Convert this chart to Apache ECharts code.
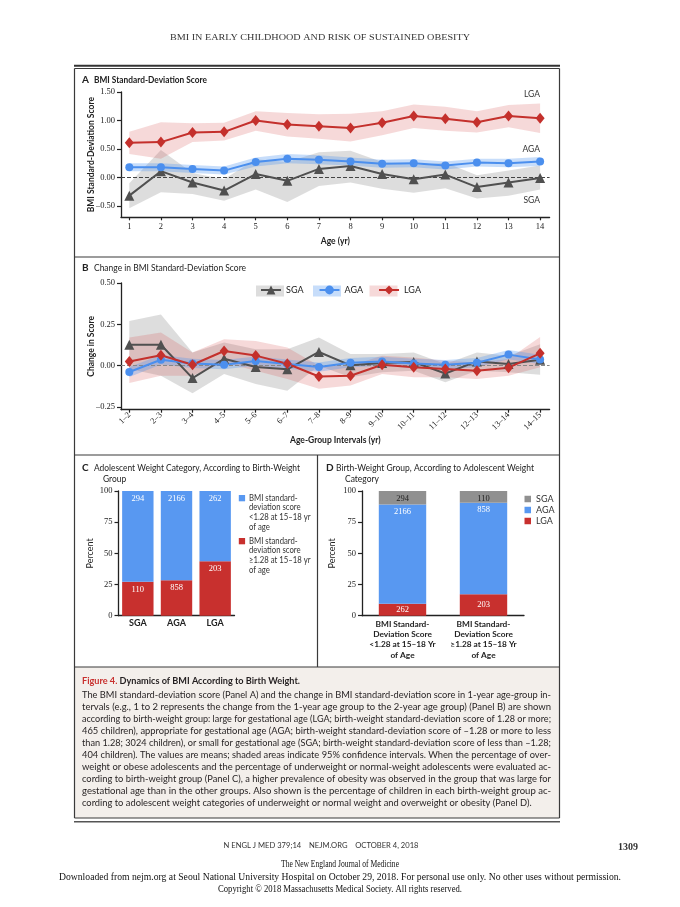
<!DOCTYPE html>
<html><head><meta charset="utf-8">
<script src="https://cdn.jsdelivr.net/npm/echarts@6/dist/echarts.min.js"></script>
<style>html,body{margin:0;padding:0;background:#fff}#c{width:680px;height:907px}</style>
</head><body><div id="c"></div>
<script>
// ---------------- DATA ----------------
const ages = [1,2,3,4,5,6,7,8,9,10,11,12,13,14];
const intervalLabels = ['1–2','2–3','3–4','4–5','5–6','6–7','7–8','8–9','9–10','10–11','11–12','12–13','13–14','14–15'];
const sdTicks = [-0.5, 0, 0.5, 1, 1.5];
const chgTicks = [-0.25, 0, 0.25, 0.5];

// Panel A: BMI SD score (mean, 95% CI)
const sdLGA   = [0.61,0.62,0.79,0.80,1.00,0.93,0.90,0.87,0.96,1.08,1.03,0.97,1.08,1.04];
const sdLGAHi = [0.80,0.97,0.95,0.96,1.16,1.13,1.11,1.12,1.16,1.28,1.24,1.16,1.27,1.30];
const sdLGALo = [0.41,0.33,0.62,0.65,0.82,0.72,0.68,0.63,0.74,0.87,0.82,0.79,0.88,0.78];
const sdAGA   = [0.18,0.18,0.15,0.12,0.27,0.33,0.31,0.28,0.24,0.25,0.21,0.26,0.25,0.28];
const sdAGAHi = [0.25,0.25,0.22,0.19,0.35,0.41,0.39,0.35,0.31,0.32,0.28,0.33,0.33,0.36];
const sdAGALo = [0.11,0.11,0.08,0.05,0.19,0.25,0.23,0.21,0.17,0.18,0.14,0.19,0.18,0.20];
const sdSGA   = [-0.32,0.11,-0.09,-0.23,0.06,-0.06,0.15,0.20,0.06,-0.03,0.05,-0.17,-0.09,-0.01];
const sdSGAHi = [-0.10,0.48,0.08,-0.03,0.32,0.27,0.44,0.47,0.27,0.21,0.26,0.04,0.12,0.21];
const sdSGALo = [-0.54,-0.26,-0.29,-0.41,-0.21,-0.43,-0.15,-0.09,-0.20,-0.27,-0.19,-0.37,-0.32,-0.21];

// Panel B: change in BMI SD score per 1-yr interval
const chSGA   = [0.127,0.127,-0.075,0.042,-0.008,-0.022,0.083,0.002,0.016,0.022,-0.047,0.026,0.010,0.036];
const chSGAHi = [0.27,0.31,0.08,0.14,0.10,0.10,0.17,0.07,0.07,0.08,0.01,0.08,0.06,0.13];
const chSGALo = [-0.02,-0.06,-0.166,-0.05,-0.11,-0.152,0.00,-0.07,-0.04,-0.03,-0.10,-0.03,-0.04,-0.055];
const chAGA   = [-0.038,0.036,0.014,0.006,0.028,0.010,-0.008,0.018,0.026,0.014,0.006,0.018,0.067,0.038];
const chAGAHi = [-0.008,0.064,0.042,0.034,0.056,0.038,0.020,0.046,0.054,0.042,0.034,0.046,0.095,0.066];
const chAGALo = [-0.068,0.008,-0.014,-0.022,0.000,-0.018,-0.036,-0.010,-0.002,-0.014,-0.022,-0.010,0.039,0.010];
const chLGA   = [0.026,0.063,0.006,0.089,0.061,0.012,-0.065,-0.061,0.006,-0.010,-0.020,-0.030,-0.012,0.075];
const chLGAHi = [0.17,0.20,0.08,0.16,0.15,0.11,0.00,0.00,0.06,0.05,0.03,0.02,0.04,0.174];
const chLGALo = [-0.105,-0.06,-0.06,0.02,-0.03,-0.08,-0.14,-0.12,-0.05,-0.07,-0.07,-0.08,-0.06,-0.01];

// Panel C: adolescent weight category by birth-weight group
const cCats = ['SGA','AGA','LGA'];
const cHighPct = [27.2, 28.4, 43.7];
const cLowPct  = [72.8, 71.6, 56.3];
const cHighN = [110, 858, 203];
const cLowN  = [294, 2166, 262];
const cLowName  = 'BMI standard-\ndeviation score\n<1.28 at 15–18 yr\nof age';
const cHighName = 'BMI standard-\ndeviation score\n≥1.28 at 15–18 yr\nof age';

// Panel D: birth-weight group by adolescent weight category
const dCats = ['BMI Standard-\nDeviation Score\n<1.28 at 15–18 Yr\nof Age', 'BMI Standard-\nDeviation Score\n≥1.28 at 15–18 Yr\nof Age'];
const dLGAPct = [9.6, 17.3];
const dAGAPct = [79.6, 73.3];
const dSGAPct = [10.8, 9.4];
const dLGAN = [262, 203];
const dAGAN = [2166, 858];
const dSGAN = [294, 110];

const captionLines = [
 'The BMI standard-deviation score (Panel A) and the change in BMI standard-deviation score in 1-year age-group in-',
 'tervals (e.g., 1 to 2 represents the change from the 1-year age group to the 2-year age group) (Panel B) are shown',
 'according to birth-weight group: large for gestational age (LGA; birth-weight standard-deviation score of 1.28 or more;',
 '465 children), appropriate for gestational age (AGA; birth-weight standard-deviation score of \u20131.28 or more to less',
 'than 1.28; 3024 children), or small for gestational age (SGA; birth-weight standard-deviation score of less than \u20131.28;',
 '404 children). The values are means; shaded areas indicate 95% confidence intervals. When the percentage of over-',
 'weight or obese adolescents and the percentage of underweight or normal-weight adolescents were evaluated ac-',
 'cording to birth-weight group (Panel C), a higher prevalence of obesity was observed in the group that was large for',
 'gestational age than in the other groups. Also shown is the percentage of children in each birth-weight group ac-',
 'cording to adolescent weight categories of underweight or normal weight and overweight or obesity (Panel D).'
];

// ---------------- STYLE ----------------
const RED = '#c4302c', BLUE = '#4b8fee', DGRAY = '#505050';
const RED_BAND = 'rgba(214,80,80,0.22)', BLUE_BAND = 'rgba(80,148,240,0.32)', GRAY_BAND = 'rgba(150,150,150,0.32)';
const BAR_BLUE = '#5898f1', BAR_RED = '#c8302e', BAR_GRAY = '#909090';
const INK = '#222';
const SERIF = 'Liberation Serif', SANS = 'Lato';

const mctx = document.createElement('canvas').getContext('2d');
function measure(text, font) { mctx.font = font; return mctx.measureText(text).width; }
function T(text, x, y, o) {
  o = o || {};
  const size = o.size || 9, weight = o.weight || 'normal', family = o.family || SANS;
  const font = weight + ' ' + size + 'px "' + family + '"';
  let sx = o.sx || 1;
  if (o.w) sx = o.w / measure(text, font);
  return { type: 'text', x: x, y: y, scaleX: sx, silent: true, z: 20,
    style: { text: text, font: font, fill: o.fill || INK, align: o.align || 'left', verticalAlign: 'middle',
             textAlign: o.align || 'left', textVerticalAlign: 'middle' } };
}
function L(x1, y1, x2, y2, w, c) {
  return { type: 'line', silent: true, z: 15, shape: { x1, y1, x2, y2 }, style: { stroke: c || '#3a3a3a', lineWidth: w || 1.2 } };
}
function R(x, y, w, h, fill, z) {
  return { type: 'rect', silent: true, z: z == null ? 0 : z, shape: { x, y, width: w, height: h }, style: { fill: fill } };
}

function band(ax, lo, hi, color) {
  return { type: 'custom', xAxisIndex: ax, yAxisIndex: ax, silent: true, z: 1,
    data: ages.map((x, i) => [x, lo[i], hi[i]]),
    encode: { x: 0, y: [1, 2] },
    renderItem: function (params, api) {
      if (params.dataIndex !== 0) return null;
      const pts = [];
      for (let i = 0; i < ages.length; i++) pts.push(api.coord([ages[i], hi[i]]));
      for (let i = ages.length - 1; i >= 0; i--) pts.push(api.coord([ages[i], lo[i]]));
      return { type: 'polygon', shape: { points: pts }, style: { fill: color } };
    } };
}
function lineS(ax, name, ys, color, symbol, size) {
  return { type: 'line', name: name, xAxisIndex: ax, yAxisIndex: ax, z: 5, silent: true,
    data: ages.map((x, i) => [x, ys[i]]), symbol: symbol, symbolSize: size,
    lineStyle: { color: color, width: 2 }, itemStyle: { color: color } };
}
const fmt2 = v => (v < 0 ? '\u2013' : '') + Math.abs(v).toFixed(2);
const tickFont = { fontFamily: SERIF, fontSize: 8.5, color: INK };
const axLine = { show: true, onZero: false, lineStyle: { color: INK, width: 1.3 } };
const axTick = { show: true, length: 4, lineStyle: { color: INK, width: 1.2 } };

// ---------------- OPTION ----------------
const grids = [
  { left: 121, top: 92, width: 428.6, height: 125.3 },
  { left: 121, top: 283, width: 428.6, height: 126.7 },
  { left: 118.5, top: 491, width: 116, height: 124.7 },
  { left: 362, top: 491, width: 162, height: 124.7 }
];

const xAxes = [
  { type: 'value', gridIndex: 0, min: 0.737, max: 14.3, axisLine: axLine,
    axisTick: Object.assign({}, axTick, { length: 3, customValues: ages }),
    axisLabel: Object.assign({}, tickFont, { customValues: ages, margin: 5 }), splitLine: { show: false },
    name: 'Age (yr)', nameLocation: 'middle', nameGap: 19, nameMoveOverlap: false,
    nameTextStyle: { fontFamily: SANS, fontWeight: 'bold', fontSize: 8.5, color: INK } },
  { type: 'value', gridIndex: 1, min: 0.737, max: 14.3, axisLine: axLine,
    axisTick: Object.assign({}, axTick, { length: 3, customValues: ages }),
    axisLabel: Object.assign({}, tickFont, { customValues: ages, margin: 4, rotate: 45,
      formatter: v => intervalLabels[ages.indexOf(Math.round(v))] }), splitLine: { show: false },
    name: 'Age-Group Intervals (yr)', nameLocation: 'middle', nameGap: 26, nameMoveOverlap: false,
    nameTextStyle: { fontFamily: SANS, fontWeight: 'bold', fontSize: 8.5, color: INK } },
  { type: 'category', gridIndex: 2, data: cCats, axisLine: axLine, axisTick: { show: false },
    axisLabel: { interval: 0, fontFamily: SANS, fontWeight: 'bold', fontSize: 9, color: INK, margin: 3 } },
  { type: 'category', gridIndex: 3, data: dCats, axisLine: axLine, axisTick: { show: false },
    axisLabel: { interval: 0, hideOverlap: false, fontFamily: SANS, fontWeight: 'bold', fontSize: 8.3, lineHeight: 10.4, color: INK, margin: 3 } }
];
const yAxes = [
  { type: 'value', gridIndex: 0, min: -0.7, max: 1.5, axisLine: axLine,
    axisTick: Object.assign({}, axTick, { customValues: sdTicks }),
    axisLabel: Object.assign({}, tickFont, { customValues: sdTicks, formatter: fmt2, margin: 6 }),
    splitLine: { show: false },
    name: 'BMI Standard-Deviation Score', nameLocation: 'middle', nameGap: 25, nameMoveOverlap: false,
    nameTextStyle: { fontFamily: SANS, fontWeight: 'bold', fontSize: 8.5, color: INK } },
  { type: 'value', gridIndex: 1, min: -0.266, max: 0.5, axisLine: axLine,
    axisTick: Object.assign({}, axTick, { customValues: chgTicks }),
    axisLabel: Object.assign({}, tickFont, { customValues: chgTicks, formatter: fmt2, margin: 6 }),
    splitLine: { show: false },
    name: 'Change in Score', nameLocation: 'middle', nameGap: 25, nameMoveOverlap: false,
    nameTextStyle: { fontFamily: SANS, fontWeight: 'bold', fontSize: 8.5, color: INK } },
  { type: 'value', gridIndex: 2, min: 0, max: 100, interval: 25, axisLine: axLine, axisTick: axTick,
    axisLabel: Object.assign({}, tickFont, { margin: 6 }), splitLine: { show: false },
    name: 'Percent', nameLocation: 'middle', nameGap: 24, nameMoveOverlap: false,
    nameTextStyle: { fontFamily: SANS, fontSize: 9, color: INK } },
  { type: 'value', gridIndex: 3, min: 0, max: 100, interval: 25, axisLine: axLine, axisTick: axTick,
    axisLabel: Object.assign({}, tickFont, { margin: 6 }), splitLine: { show: false },
    name: 'Percent', nameLocation: 'middle', nameGap: 25, nameMoveOverlap: false,
    nameTextStyle: { fontFamily: SANS, fontSize: 9, color: INK } }
];

const zeroLine = (color) => ({ silent: true, symbol: 'none', label: { show: false },
  lineStyle: { type: 'dashed', color: color, width: 1 }, data: [{ yAxis: 0 }] });

const barLabel = (arr, color, pos) => ({ show: true, position: pos || 'insideTop', distance: 3,
  fontFamily: SERIF, fontSize: 8.5, color: color, formatter: p => String(arr[p.dataIndex]) });

const series = [
  // Panel A
  Object.assign(lineS(0, 'SGA', sdSGA, DGRAY, 'triangle', 10), { markLine: zeroLine('#444') }),
  lineS(0, 'AGA', sdAGA, BLUE, 'circle', 8),
  lineS(0, 'LGA', sdLGA, RED, 'diamond', [9, 11]),
  band(0, sdSGALo, sdSGAHi, GRAY_BAND),
  band(0, sdLGALo, sdLGAHi, RED_BAND),
  band(0, sdAGALo, sdAGAHi, BLUE_BAND),
  // Panel B
  band(1, chSGALo, chSGAHi, GRAY_BAND),
  band(1, chLGALo, chLGAHi, RED_BAND),
  band(1, chAGALo, chAGAHi, BLUE_BAND),
  Object.assign(lineS(1, 'SGA', chSGA, DGRAY, 'triangle', 10), { markLine: zeroLine('#888') }),
  lineS(1, 'AGA', chAGA, BLUE, 'circle', 8),
  lineS(1, 'LGA', chLGA, RED, 'diamond', [9, 11]),
  // Panel C
  { type: 'bar', name: cHighName, xAxisIndex: 2, yAxisIndex: 2, stack: 'c', barWidth: 31.4, silent: true,
    data: cHighPct, itemStyle: { color: BAR_RED }, label: barLabel(cHighN, '#fff') },
  { type: 'bar', name: cLowName, xAxisIndex: 2, yAxisIndex: 2, stack: 'c', barWidth: 31.4, silent: true,
    data: cLowPct, itemStyle: { color: BAR_BLUE }, label: barLabel(cLowN, '#fff') },
  // Panel D
  { type: 'bar', name: 'dLGA', xAxisIndex: 3, yAxisIndex: 3, stack: 'd', barWidth: 47.4, silent: true,
    data: dLGAPct, itemStyle: { color: BAR_RED }, label: barLabel(dLGAN, '#fff', 'inside') },
  { type: 'bar', name: 'dAGA', xAxisIndex: 3, yAxisIndex: 3, stack: 'd', barWidth: 47.4, silent: true,
    data: dAGAPct, itemStyle: { color: BAR_BLUE }, label: barLabel(dAGAN, '#fff') },
  { type: 'bar', name: 'dSGA', xAxisIndex: 3, yAxisIndex: 3, stack: 'd', barWidth: 47.4, silent: true,
    data: dSGAPct, itemStyle: { color: BAR_GRAY }, label: barLabel(dSGAN, INK) }
];

const legends = [
  { data: ['SGA', 'AGA', 'LGA'], left: 255, top: 280.5, itemWidth: 20, itemHeight: 11, itemGap: 15,
    selectedMode: false, z: 6, textStyle: { fontFamily: SANS, fontSize: 9, color: INK } },
  { data: [
      { name: 'dSGA', icon: 'rect' }, { name: 'dAGA', icon: 'rect' }, { name: 'dLGA', icon: 'rect' }
    ], orient: 'vertical', left: 519.5, top: 489.5, itemWidth: 6.5, itemHeight: 6.5, itemGap: 2,
    selectedMode: false, formatter: n => n.slice(1),
    textStyle: { fontFamily: SANS, fontSize: 9, color: '#333' } }
];

// ---------------- DECORATION (frame, titles, caption, page text) ----------------
const g = [];
// caption background
g.push(R(74.5, 667, 485, 151, '#f3efeb', 0));
// page frame
g.push(L(74, 65.8, 560, 65.8, 2, '#333'));
g.push(L(74.5, 68.5, 559.5, 68.5, 1.1));
g.push(L(74.5, 68.5, 74.5, 818));
g.push(L(559.5, 68.5, 559.5, 818));
g.push(L(74.5, 257, 559.5, 257));
g.push(L(74.5, 455, 559.5, 455));
g.push(L(317.5, 455, 317.5, 667));
g.push(L(74.5, 667, 559.5, 667));
g.push(L(74.5, 818, 559.5, 818, 1.2));
g.push(L(74, 821.8, 560, 821.8, 1.6, '#555'));
// legend shading boxes in panel B
g.push(R(256, 285.5, 28, 11, GRAY_BAND, 1));
g.push(R(313, 285.5, 28, 11, BLUE_BAND, 1));
g.push(R(369.5, 285.5, 28, 11, RED_BAND, 1));

// running head
g.push(T('BMI IN EARLY CHILDHOOD AND RISK OF SUSTAINED OBESITY', 320, 38, { family: SERIF, size: 8, w: 300, align: 'center', fill: '#333' }));
// panel titles
g.push(T('A', 82, 80, { size: 10, weight: 'bold' }));
g.push(T('BMI Standard-Deviation Score', 94, 80, { size: 9, weight: 'bold', w: 113 }));
g.push(T('B', 82, 267.5, { size: 10, weight: 'bold' }));
g.push(T('Change in BMI Standard-Deviation Score', 94, 267.5, { size: 9.5, w: 152 }));
g.push(T('C', 82, 468, { size: 10, weight: 'bold' }));
g.push(T('Adolescent Weight Category, According to Birth-Weight', 94, 468, { size: 9.5, w: 206 }));
g.push(T('Group', 103, 478.5, { size: 9.5, sx: 206 / measure('Adolescent Weight Category, According to Birth-Weight', 'normal 9.5px "Lato"') }));
g.push(T('D', 326, 468, { size: 10, weight: 'bold' }));
g.push(T('Birth-Weight Group, According to Adolescent Weight', 336, 468, { size: 9.5, w: 198 }));
g.push(T('Category', 345, 478.5, { size: 9.5, sx: 198 / measure('Birth-Weight Group, According to Adolescent Weight', 'normal 9.5px "Lato"') }));
// panel A group labels
g.push(T('LGA', 540, 94, { size: 8.5, align: 'right', fill: '#333' }));
g.push(T('AGA', 540, 149, { size: 8.5, align: 'right', fill: '#333' }));
g.push(T('SGA', 540, 200.5, { size: 8.5, align: 'right', fill: '#333' }));
// panel C legend
g.push(R(238.8, 495, 6.3, 6.3, BAR_BLUE, 5));
g.push(R(238.8, 538, 6.3, 6.3, BAR_RED, 5));
const cl1 = cLowName.split('\n'), cl2 = cHighName.split('\n');
cl1.forEach((t, i) => g.push(T(t, 249, 498 + i * 9.6, { size: 8.8, sx: 0.88, fill: '#333' })));
cl2.forEach((t, i) => g.push(T(t, 249, 541 + i * 9.6, { size: 8.8, sx: 0.88, fill: '#333' })));

// caption
const capBold = 'bold 10px "Lato"';
const capTitle = 'Figure 4. Dynamics of BMI According to Birth Weight.';
const capS = 218 / measure(capTitle, capBold);
g.push(T('Figure 4.', 82, 681, { size: 10, weight: 'bold', sx: capS, fill: '#c8302e' }));
g.push(T('Dynamics of BMI According to Birth Weight.', 82 + capS * measure('Figure 4. ', capBold), 681, { size: 10, weight: 'bold', sx: capS, fill: '#231f20' }));
let scSum = 0;
captionLines.forEach((t, i) => {
  if (i < captionLines.length - 1) {
    const s = 469 / measure(t, 'normal 10px "Lato"');
    scSum += s;
    g.push(T(t, 82, 695 + i * 12, { size: 10, sx: s, fill: '#231f20' }));
  } else {
    g.push(T(t, 82, 695 + i * 12, { size: 10, sx: scSum / (captionLines.length - 1), fill: '#231f20' }));
  }
});

// page footer
g.push(T('N ENGL J MED 379;14    NEJM.ORG    OCTOBER 4, 2018', 321, 846, { size: 7, w: 195, align: 'center', fill: '#333' }));
g.push(T('1309', 618, 847, { family: SERIF, size: 10, weight: 'bold', fill: '#333' }));
g.push(T('The New England Journal of Medicine', 340, 864, { family: SERIF, size: 10, w: 118, align: 'center', fill: '#111' }));
g.push(T('Downloaded from nejm.org at Seoul National University Hospital on October 29, 2018. For personal use only. No other uses without permission.', 340, 877, { family: SERIF, size: 10, w: 562, align: 'center', fill: '#111' }));
g.push(T('Copyright \u00a9 2018 Massachusetts Medical Society. All rights reserved.', 340, 889, { family: SERIF, size: 10, w: 244, align: 'center', fill: '#111' }));

const option = {
  animation: false,
  backgroundColor: '#fff',
  textStyle: { fontFamily: SANS },
  grid: grids, xAxis: xAxes, yAxis: yAxes, series: series, legend: legends,
  graphic: { elements: g }
};
const chart = echarts.init(document.getElementById('c'), null, { renderer: 'canvas' });
chart.setOption(option);
</script>
</body></html>
